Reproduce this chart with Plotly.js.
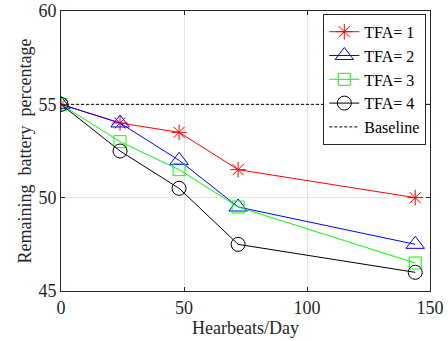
<!DOCTYPE html>
<html>
<head>
<meta charset="utf-8">
<script src="https://cdn.plot.ly/plotly-3.0.1.min.js"></script>
<style>html,body{margin:0;padding:0;background:#fff;}#chart{width:448px;height:341px;}</style>
</head>
<body>
<div id="chart"></div>
<script>
const heartbeats = [0, 24, 48, 72, 144];
const tfa1 = [55, 54, 53.5, 51.5, 50];
const tfa2 = [55, 54, 52, 49.5, 47.5];
const tfa3 = [55, 53, 51.5, 49.5, 46.5];
const tfa4 = [55, 52.5, 50.5, 47.5, 46];
const baselineX = [0, 150];
const baselineY = [55, 55];
const seriesNames = ['TFA= 1', 'TFA= 2', 'TFA= 3', 'TFA= 4', 'Baseline'];

const font = 'Liberation Serif';
const mk = (y, name, color, symbol, size) => ({
  x: heartbeats, y: y, name: name, type: 'scatter', mode: 'lines+markers',
  line: {color: color, width: 1},
  marker: {symbol: symbol, size: size, color: color, line: {color: color, width: 1}}
});
const traces = [
  mk(tfa1, seriesNames[0], '#ff0000', 'asterisk-open', 13),
  mk(tfa2, seriesNames[1], '#0000ff', 'triangle-up-open', 16),
  mk(tfa3, seriesNames[2], '#00ff00', 'square-open', 12),
  mk(tfa4, seriesNames[3], '#000000', 'circle-open', 14),
  {x: baselineX, y: baselineY, name: seriesNames[4], type: 'scatter', mode: 'lines',
   line: {color: '#000000', width: 1, dash: '3px,2px'}}
];
const axisCommon = {
  showline: true, mirror: 'ticks', linecolor: '#262626', linewidth: 1,
  ticks: 'inside', ticklen: 4, tickcolor: '#262626',
  showgrid: true, gridcolor: '#e3e3e3', gridwidth: 1, zeroline: false,
  tickfont: {family: font, size: 18, color: '#262626'}
};
const layout = {
  width: 448, height: 341,
  font: {family: font},
  margin: {l: 61, r: 18, t: 11, b: 50},
  paper_bgcolor: '#ffffff', plot_bgcolor: '#ffffff',
  showlegend: true,
  legend: {x: 0.99, y: 0.99, xanchor: 'right', yanchor: 'top', bgcolor: '#ffffff',
    bordercolor: '#262626', borderwidth: 1, font: {family: font, size: 16, color: '#000'},
    tracegroupgap: 0, itemwidth: 30},
  xaxis: Object.assign({}, axisCommon, {range: [0, 150], tickvals: [0, 50, 100, 150],
    title: {text: 'Hearbeats/Day', font: {family: font, size: 18, color: '#262626'}, standoff: 4}}),
  yaxis: Object.assign({}, axisCommon, {range: [45, 60], tickvals: [45, 50, 55, 60],
    title: {text: 'Remaining  battery  percentage', font: {family: font, size: 18, color: '#262626'}, standoff: 2}})
};
Plotly.newPlot('chart', traces, layout, {displayModeBar: false, staticPlot: true});
</script>
</body>
</html>
